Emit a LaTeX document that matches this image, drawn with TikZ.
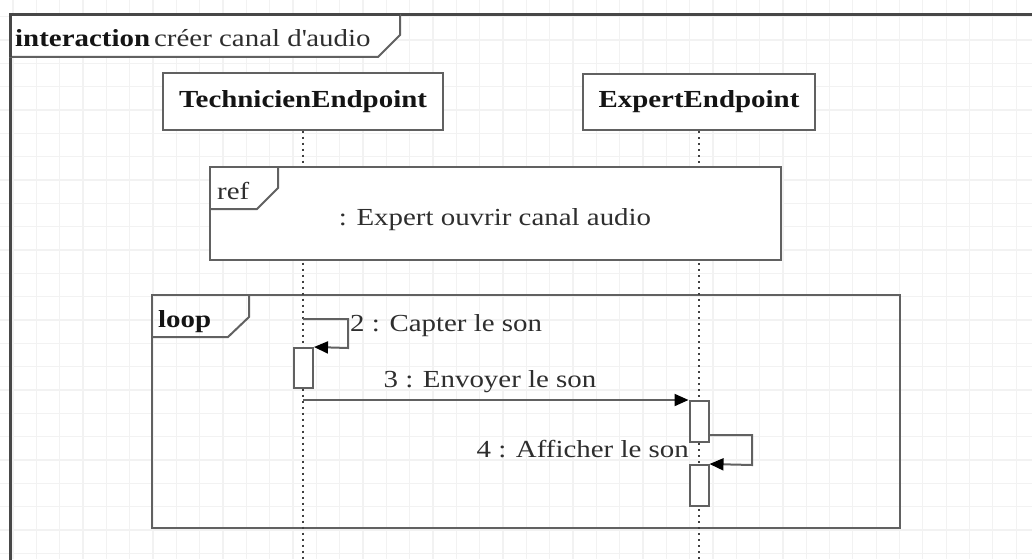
\documentclass[tikz,border=0pt]{standalone}
\usepackage{fontspec}
\setmainfont{Liberation Serif}[FakeStretch=1.18]
\usetikzlibrary{arrows.meta}
\begin{document}
\begin{tikzpicture}[x=1pt,y=-1pt,
  gridline/.style={draw=black!5, line width=1.2pt},
  frameline/.style={draw=black!72, line width=3pt},
  boxline/.style={draw=black!62, line width=2pt},
  actor/.style={boxline, fill=white, minimum height=56pt, inner sep=0pt, font=\fontsize{24.5}{28}\selectfont\bfseries, text=black!92},
  life/.style={draw=black!75, line width=1.9pt, dash pattern=on 2pt off 4pt},
  actbar/.style={boxline, fill=white, minimum width=19pt, inner sep=0pt},
  msg/.style={boxline, -{Triangle[length=14pt,width=12pt,color=black]}},
  lbl/.style={inner sep=0pt, font=\fontsize{24.5}{28}\selectfont, text=black!82}]
\useasboundingbox (0,0) rectangle (1032,559);
\fill[white] (0,0) rectangle (1032,559);
% grid
\foreach \i in {0,...,44} \draw[gridline] ({13+23.33*\i},0) -- ++(0,559);
\foreach \j in {0,...,23} \draw[gridline] (0,{16.7+23.33*\j}) -- ++(1032,0);
% outer frame
\draw[frameline] (10,570) -- (10,15) -- (1045,15);
\filldraw[boxline, fill=white] (10,15) -- (400,15) -- (400,35) -- (378,57) -- (10,57) -- cycle;
\draw[frameline] (10,57) -- (10,15) -- (400,15);
\node[lbl, anchor=base west] (title) at (15,47) {\textbf{\color{black!92}interaction}\,créer canal d\textquotesingle audio};
% loop fragment
\node[boxline, minimum width=748pt, minimum height=233pt, inner sep=0pt] (loop) at (526,411.5) {};
\draw[boxline] (loop.north west -| 249,0) -- (249,317) -- (228,337) -- (loop.west |- 0,337);
\node[lbl, anchor=base west, font=\fontsize{24.5}{28}\selectfont\bfseries, text=black!92] (looplbl) at (158,327) {loop};
% participants
\node[actor, minimum width=280pt] (te) at (303,101.5) {TechnicienEndpoint};
\node[actor, minimum width=232pt] (ee) at (699,102) {ExpertEndpoint};
% lifelines
\coordinate (teend) at (te.south |- 0,570);
\coordinate (eeend) at (ee.south |- 0,570);
\draw[life] (te.south) -- (teend);
\draw[life] (ee.south) -- (eeend);
% ref fragment
\node[boxline, fill=white, minimum width=571pt, minimum height=93pt, inner sep=0pt] (ref) at (495.5,213.5) {};
\draw[boxline] (ref.north west -| 278,0) -- (278,188) -- (257,209) -- (ref.west |- 0,209);
\node[lbl, anchor=base west] (reflbl) at (217,199) {ref};
\node[lbl] (reftext) at (495,220) {: Expert ouvrir canal audio};
% activation bars
\node[actbar, minimum height=40pt] (a1) at (303.5,368) {};
\node[actbar, minimum height=41pt] (a2) at (699,421.5) {};
\node[actbar, minimum height=41pt] (a3) at (699,485.5) {};
% message 2 (self)
\coordinate (m2s) at (te.south |- 0,319);
\draw[msg] (m2s) -- (348,319) -- (348,348) -- (a1.north east);
\node[lbl, anchor=base west] (m2l) at (350,331) {2 : Capter le son};
% message 3
\coordinate (m3s) at (te.south |- a2.north);
\draw[msg] (m3s) -- (a2.north west);
\node[lbl, anchor=base] (m3l) at (490,387) {3 : Envoyer le son};
% message 4 (self)
\coordinate (m4s) at (a2.east |- 0,435);
\draw[msg] (m4s) -- (752,435) -- (752,465) -- (a3.north east);
\node[lbl, anchor=base east] (m4l) at (689,457) {4 : Afficher le son};
\end{tikzpicture}
\end{document}
